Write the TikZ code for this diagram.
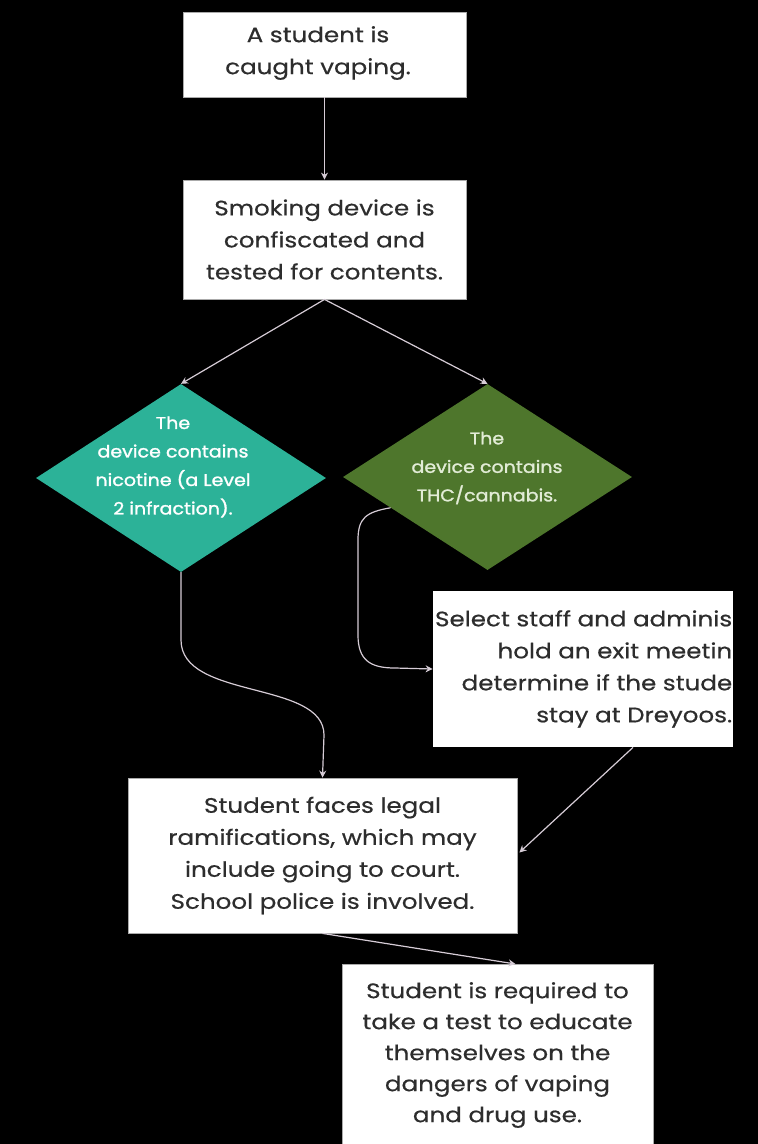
\documentclass[tikz,border=0pt]{standalone}
\usepackage{fontspec}
\setmainfont{Poppins}[FakeStretch=1.17,UprightFeatures={FakeBold=0.5}]
\newfontfamily\diafont{Poppins}[FakeStretch=1.12,UprightFeatures={FakeBold=1.4}]
\usetikzlibrary{shapes.geometric,arrows.meta,calc}
\definecolor{teal1}{RGB}{44,178,152}
\definecolor{olive1}{RGB}{78,118,44}
\definecolor{conn}{RGB}{214,204,214}
\definecolor{boxtext}{RGB}{45,45,45}
\definecolor{dtext2}{RGB}{226,236,214}
\tikzset{
  stepbox/.style={draw={rgb,255:red,170;green,170;blue,170},line width=0.8pt,fill=white,inner sep=0pt,text=boxtext,align=center,font=\fontsize{21}{32}\selectfont},
  boxtxt/.style={text=boxtext,font=\fontsize{21}{32}\selectfont,inner sep=0pt},
  dia/.style={shape=diamond,inner sep=0pt},
  diatext/.style={align=center,font=\diafont\fontsize{17}{28.5}\selectfont,inner sep=0pt},
  conn/.style={draw=conn,line width=1.2pt,-{Stealth[length=7pt,width=7pt]}}
}
\begin{document}
\begin{tikzpicture}[x=1pt,y=-1pt]
\fill[black] (0,0) rectangle (758,1144);
\useasboundingbox (0,0) rectangle (758,1144);
% boxes
\node[stepbox,minimum width=283pt,minimum height=85pt] (b1) at (324.5,54.5) {};
\node[boxtxt,align=center] (t1b) at (318,53) {A student is\\caught vaping.};
\node[stepbox,minimum width=283pt,minimum height=119pt] (b2) at (324.5,239.5) {Smoking device is\\confiscated and\\tested for contents.};
\node[dia,fill=teal1,minimum width=290pt,minimum height=188pt] (d1) at (181,478) {};
\node[diatext,text=white] (t1) at (173,467) {The\\device contains\\nicotine (a Level\\2 infraction).};
\node[dia,fill=olive1,minimum width=289pt,minimum height=186pt] (d2) at (487.5,477) {};
\node[diatext,text=dtext2] (t2) at (487,468) {The\\device contains\\THC/cannabis.};
\node[stepbox,draw=none,minimum width=300pt,minimum height=156pt] (b3) at (583,669) {};
\node[boxtxt,align=right,anchor=east] (t3) at ($(b3.east)+(-1,0)$) {Select staff and adminis\\hold an exit meetin\\determine if the stude\\stay at Dreyoos.};
\node[stepbox,minimum width=389pt,minimum height=155pt] (b4) at (322.5,855.5) {Student faces legal\\ramifications, which may\\include going to court.\\School police is involved.};
\node[stepbox,minimum width=311pt,minimum height=186pt,anchor=north] (b5) at (497.5,964) {};
\node[boxtxt,align=center,font=\fontsize{21}{31}\selectfont] (t5) at (497.5,1055) {Student is required to\\take a test to educate\\themselves on the\\dangers of vaping\\and drug use.};
% connectors
\draw[conn] (b1.south) -- (b2.north);
\draw[conn] (b2.south) -- (d1.north);
\draw[conn] (b2.south) -- (d2.north);
\coordinate (s3) at ($(d2.west)!0.33!(d2.south)$);
\draw[conn] (s3) .. controls (366,512) and (358,518) .. (358,540) -- (358,635) .. controls (358,660) and (370,668) .. (395,668) -- (b3.west);
\draw[conn] (d1.south) -- (181,640) .. controls (181,700) and (324,680) .. (324,735) -- (b4.north);
\coordinate (s5) at ($(b3.south)+(50,0)$);
\draw[conn] (s5) -- ($(b4.east)+(2,-3)$);
\draw[conn] (b4.south) -- ($(b5.north)+(18,0)$);
\end{tikzpicture}
\end{document}
